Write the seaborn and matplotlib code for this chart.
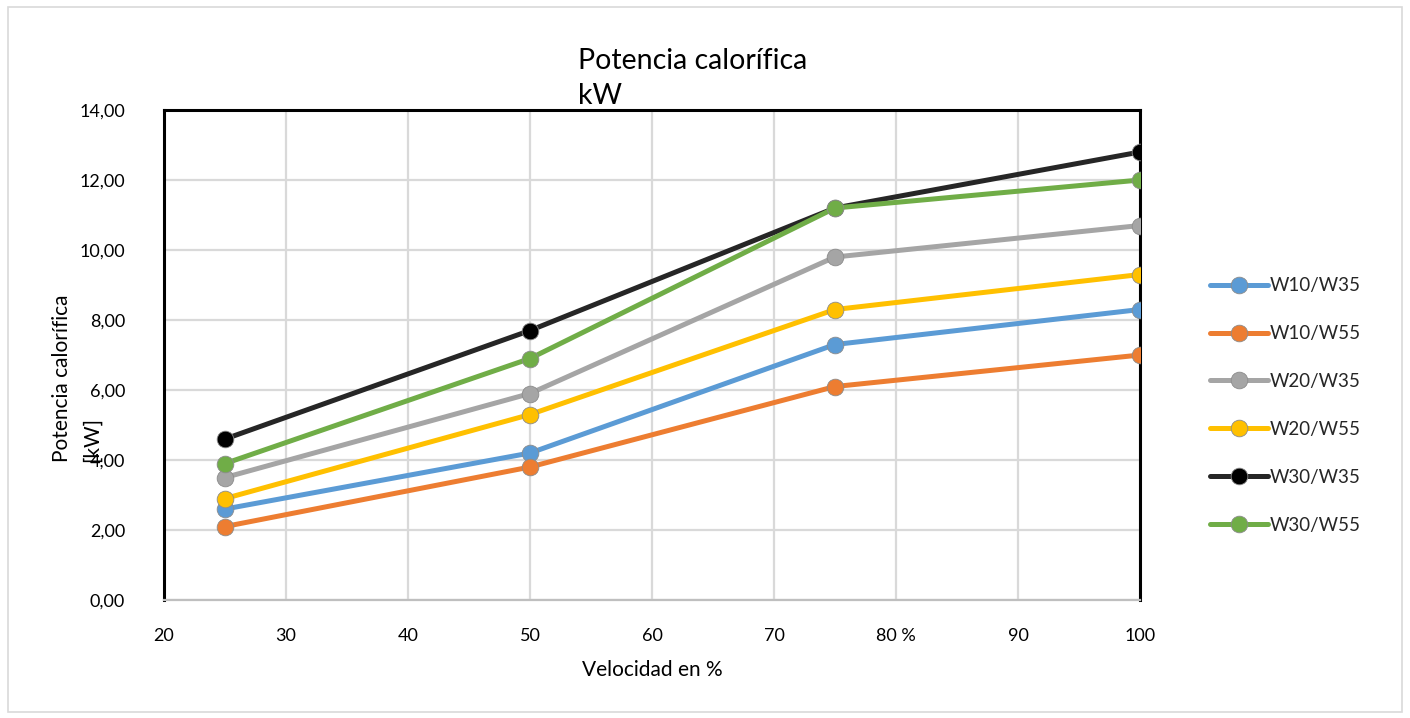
import matplotlib
matplotlib.use("Agg")
import matplotlib.pyplot as plt
import seaborn as sns
import pandas as pd
from matplotlib.lines import Line2D
from matplotlib.patches import Rectangle

# Heating output [kW] by fan speed [%]
speed = [25, 50, 75, 100]
w10_w35 = [2.6, 4.2, 7.3, 8.3]
w10_w55 = [2.1, 3.8, 6.1, 7.0]
w20_w35 = [3.5, 5.9, 9.8, 10.7]
w20_w55 = [2.9, 5.3, 8.3, 9.3]
w30_w35 = [4.6, 7.7, 11.2, 12.8]
w30_w55 = [3.9, 6.9, 11.2, 12.0]

series_names = ["W10/W35", "W10/W55", "W20/W35", "W20/W55", "W30/W35", "W30/W55"]
series_values = [w10_w35, w10_w55, w20_w35, w20_w55, w30_w35, w30_w55]
line_colors = ["#5B9BD5", "#ED7D31", "#A5A5A5", "#FFC000", "#262626", "#70AD47"]
marker_colors = ["#5B9BD5", "#ED7D31", "#A5A5A5", "#FFC000", "#000000", "#70AD47"]

x_ticks = [20, 30, 40, 50, 60, 70, 80, 90, 100]
x_tick_labels = ["20", "30", "40", "50", "60", "70", "80 %", "90", "100"]
y_ticks = [0, 2, 4, 6, 8, 10, 12, 14]
y_tick_labels = ["0,00", "2,00", "4,00", "6,00", "8,00", "10,00", "12,00", "14,00"]

sns.set_theme(style="white")
plt.rcParams["font.family"] = ["Lato", "DejaVu Sans"]

df = pd.DataFrame({
    "speed": speed * len(series_names),
    "power": [v for vals in series_values for v in vals],
    "series": [n for n in series_names for _ in speed],
})

fig = plt.figure(figsize=(14.10, 7.18), dpi=100)
ax = fig.add_axes([0.1163, 0.1643, 0.6922, 0.6825])

for name, lc, mc in zip(series_names, line_colors, marker_colors):
    sub = df[df["series"] == name]
    sns.lineplot(data=sub, x="speed", y="power", ax=ax, color=lc,
                 linewidth=3.6, marker="o", markersize=12,
                 markerfacecolor=mc, markeredgecolor="#8c8c8c",
                 markeredgewidth=0.6, legend=False, zorder=3)

ax.set_xlim(20, 100)
ax.set_ylim(0, 14)
ax.set_xticks(x_ticks)
ax.set_xticklabels(x_tick_labels)
ax.set_yticks(y_ticks)
ax.set_yticklabels(y_tick_labels)
ax.tick_params(axis="x", length=0, pad=20, labelsize=13, colors="#000000")
ax.tick_params(axis="y", length=0, pad=28, labelsize=13, colors="#000000")

ax.grid(True, color="#D9D9D9", linewidth=1.6)
ax.set_axisbelow(True)

for side in ["top", "left", "right"]:
    ax.spines[side].set_color("#000000")
    ax.spines[side].set_linewidth(2.2)
    ax.spines[side].set_visible(True)
ax.spines["bottom"].set_color("#BFBFBF")
ax.spines["bottom"].set_linewidth(1.6)
ax.spines["bottom"].set_visible(True)

ax.set_xlabel("Velocidad en %", fontsize=15, labelpad=12, color="#000000")
ax.set_ylabel("")

# Two-line vertical axis title, both lines starting from the same baseline
fig.text(0.044, 0.3565, "Potencia calorífica", fontsize=15, rotation=90,
         ha="center", va="bottom", color="#000000")
fig.text(0.0653, 0.3565, "[kW]", fontsize=15, rotation=90,
         ha="center", va="bottom", color="#000000")

fig.text(0.41, 0.933, "Potencia calorífica\nkW", fontsize=20.5, ha="left",
         va="top", color="#000000", linespacing=1.42)

handles = [Line2D([0], [0], color=lc, linewidth=3.6, marker="o", markersize=12,
                  markerfacecolor=mc, markeredgecolor="#8c8c8c", markeredgewidth=0.6)
           for lc, mc in zip(line_colors, marker_colors)]
fig.legend(handles, series_names, loc="upper left", bbox_to_anchor=(0.858, 0.614),
           frameon=False, fontsize=13.5, handlelength=3.1, handletextpad=0.1,
           labelspacing=1.65, borderaxespad=0, borderpad=0)

fig.patches.append(Rectangle((0.006, 0.008), 0.988, 0.982, transform=fig.transFigure,
                             fill=False, edgecolor="#D9D9D9", linewidth=1.2))

fig.savefig("out.png", dpi=100)
